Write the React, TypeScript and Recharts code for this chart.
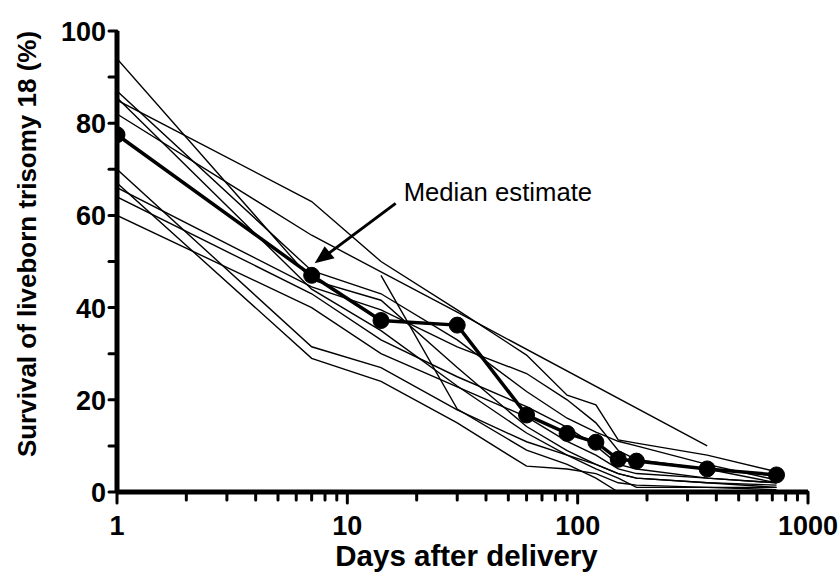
import React from "react";
import { LineChart, Line, XAxis, YAxis, ReferenceDot } from "recharts";

// time points (days after delivery) shared by all series
const days = [1, 7, 14, 30, 60, 90, 120, 150, 180, 365, 730];

// pooled median survival (%)
const median = [77.5, 47, 37.2, 36.2, 16.7, 12.7, 10.8, 7.1, 6.7, 5, 3.7];

// individual study curves (%), null = not reported
const studyA = [94, 46, 41.6, 27, 14.2, 9, 6, 4, 3, 2, 1];
const studyB = [87, 48, 43, 33, 21.8, 16, 13, 11, 10, 6, 2.6];
const studyC = [85.5, 44, 35, 23, 12.8, 8, 5, 3, 1, 1, 1];
const studyD = [85, 63, 50, 39.5, 29.7, 21, 18.9, 11.3, 10.6, 8, 4.4];
const studyE = [82, 55.7, null, 39, null, null, null, null, null, 10, null];
const studyF = [70, 31.5, 27, 17.8, 10.9, 8, 6, 4, 3, 2, 1.5];
const studyG = [67, 29, 24, 15, 5.6, 5, 4, 2, 1.5, 1, 0.5];
const studyH = [66, 44.5, 39.5, 31.5, 25.7, 20, 15, 9, 7, 5, 2];
const studyI = [64, 43, 33, 25, 18.5, 14, 10, 6, 5, 3, 2];
const studyJ = [60, 40, 30, 22.8, 16.3, 11, 8, 5, 4, 3, 2];
const studyK = [null, null, 47, 18, 9.1, 6, 3, 0, null, null, null];

const studies = [studyA, studyB, studyC, studyD, studyE, studyF, studyG, studyH, studyI, studyJ, studyK];

const xTicks = [1, 2, 3, 4, 5, 6, 7, 8, 9, 10, 20, 30, 40, 50, 60, 70, 80, 90, 100, 200, 300, 400, 500, 600, 700, 800, 900, 1000];
const xLabels = [1, 10, 100, 1000];
const yTicks = [0, 10, 20, 30, 40, 50, 60, 70, 80, 90, 100];
const yLabels = [0, 20, 40, 60, 80, 100];

const FONT = "'Liberation Sans', Arial, sans-serif";

const toPoints = (vals: (number | null)[]) =>
  days.map((d, i) => ({ d, v: vals[i] })).filter((p) => p.v !== null);

const XTick = (props: any) => {
  const { x, y, payload } = props;
  const major = xLabels.includes(payload.value);
  return (
    <g>
      <line x1={x} x2={x} y1={y} y2={y + (major ? 11 : 8)} stroke="#000" strokeWidth={3} strokeLinecap="round" />
      {major && (
        <text x={x} y={y + 43} textAnchor="middle" fontFamily={FONT} fontWeight="bold" fontSize={27} fill="#000">
          {payload.value}
        </text>
      )}
    </g>
  );
};

const YTick = (props: any) => {
  const { x, y, payload } = props;
  const labelled = yLabels.includes(payload.value);
  return (
    <g>
      <line x1={x - 8} x2={x} y1={y} y2={y} stroke="#000" strokeWidth={3} strokeLinecap="round" />
      {labelled && (
        <text x={x - 11} y={y + 10} textAnchor="end" fontFamily={FONT} fontWeight="bold" fontSize={27} fill="#000">
          {payload.value}
        </text>
      )}
    </g>
  );
};

const YTitle = () => {
  const cx = 36;
  const cy = 244;
  return (
    <text
      x={cx}
      y={cy}
      transform={`rotate(-90, ${cx}, ${cy})`}
      textAnchor="middle"
      fontFamily={FONT}
      fontWeight="bold"
      fontSize={26}
      fill="#000"
    >
      Survival of liveborn trisomy 18 (%)
    </text>
  );
};

const XTitle = (props: any) => {
  const { viewBox } = props;
  return (
    <text
      x={viewBox.x + viewBox.width / 2 + 4}
      y={566}
      textAnchor="middle"
      fontFamily={FONT}
      fontWeight="bold"
      fontSize={29.5}
      fill="#000"
    >
      Days after delivery
    </text>
  );
};

// arrow + caption anchored on the day-7 median point
const Annotation = (props: any) => {
  const { cx, cy } = props;
  return (
    <g>
      <line x1={cx + 84} y1={cy - 72} x2={cx + 17} y2={cy - 22} stroke="#000" strokeWidth={3} />
      <polygon
        points={`${cx + 3},${cy - 12} ${cx + 23},${cy - 17} ${cx + 13},${cy - 29}`}
        fill="#000"
      />
      <text x={cx + 92} y={cy - 74} fontFamily={FONT} fontSize={25.7} fill="#000">
        Median estimate
      </text>
    </g>
  );
};

const App = () => {
  return (
    <div style={{ position: "absolute", left: 0, top: 0, width: 840, height: 576, background: "#fff" }}>
      <LineChart width={840} height={576} margin={{ top: 31, right: 32, bottom: 0, left: 0 }}>
        <XAxis
          dataKey="d"
          type="number"
          scale="log"
          domain={[1, 1000]}
          ticks={xTicks}
          interval={0}
          tickSize={0}
          tickMargin={0}
          tick={<XTick />}
          axisLine={{ stroke: "#000", strokeWidth: 5 }}
          height={84}
          allowDataOverflow
          label={{ content: <XTitle /> }}
        />
        <YAxis
          dataKey="v"
          type="number"
          domain={[0, 100]}
          ticks={yTicks}
          interval={0}
          tickSize={0}
          tickMargin={0}
          tick={<YTick />}
          axisLine={{ stroke: "#000", strokeWidth: 5 }}
          width={117}
          label={{ content: <YTitle /> }}
        />
        {studies.map((s, i) => (
          <Line
            key={`study-${i}`}
            data={toPoints(s)}
            dataKey="v"
            stroke="#000"
            strokeWidth={1.4}
            dot={false}
            activeDot={false}
            isAnimationActive={false}
          />
        ))}
        <Line
          data={toPoints(median)}
          dataKey="v"
          stroke="#000"
          strokeWidth={3.5}
          dot={{ r: 8, fill: "#000", stroke: "#000", strokeWidth: 1 }}
          activeDot={false}
          isAnimationActive={false}
        />
        <ReferenceDot x={7} y={median[1]} r={0} shape={<Annotation />} />
      </LineChart>
    </div>
  );
};

export default App;
